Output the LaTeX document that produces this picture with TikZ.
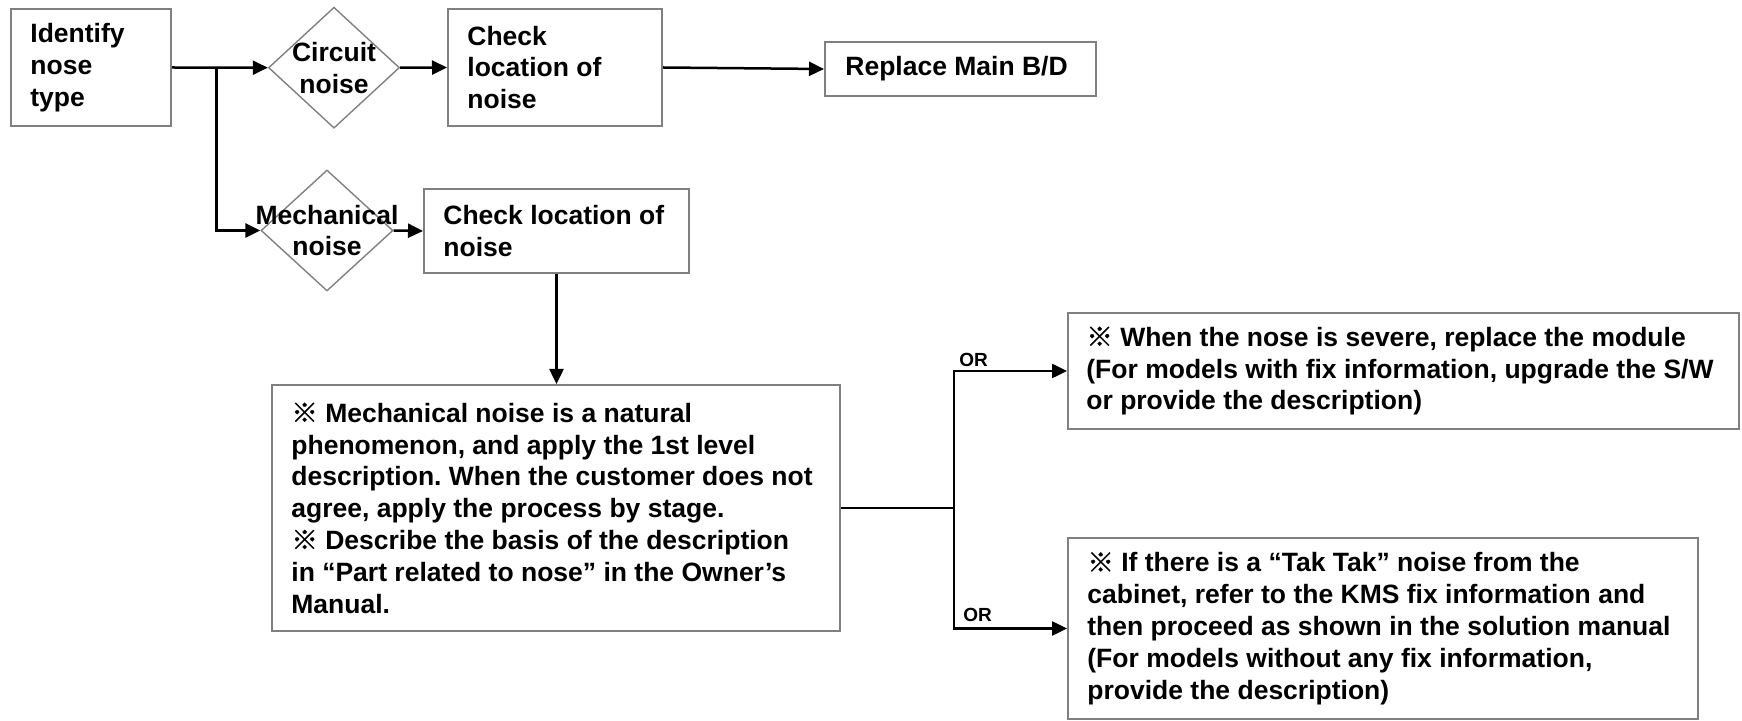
\documentclass[tikz,border=0pt]{standalone}
\usepackage{fontspec}
\setmainfont{Liberation Sans}
\newfontfamily\cjk{Noto Sans CJK SC}[FakeBold=1.2, BoldFeatures={FakeBold=1.2}]
\newcommand{\refmark}{{\cjk ※}}
\frenchspacing
\usetikzlibrary{shapes.geometric,arrows.meta}
\definecolor{bordergray}{RGB}{128,128,128}
\begin{document}
\frenchspacing
\begin{tikzpicture}[x=0.5pt,y=-0.5pt,
  box/.style={draw=bordergray, line width=1pt, fill=white, inner sep=0pt},
  dia/.style={diamond, draw=bordergray, line width=0.7pt, inner sep=0pt},
  txt/.style={font=\fontsize{13.25}{15.9}\selectfont\bfseries, align=left, inner sep=0pt},
  ctxt/.style={font=\fontsize{13.25}{15.9}\selectfont\bfseries, align=center, inner sep=0pt},
  conn/.style={line width=1.25pt, draw=black},
  arr/.style={conn, -{Triangle[length=7.5pt,width=7pt]}},
  ortxt/.style={font=\fontsize{9.5}{11}\selectfont\bfseries, inner sep=0pt, anchor=base west}
]
\useasboundingbox (0,0) rectangle (1742,721);

% boxes and decisions
\node[box, minimum width=80pt, minimum height=58.5pt] (idb) at (91,67.5) {};
\node[txt, anchor=west] (idt) at ([xshift=10pt]idb.west) {Identify\\nose\\type};

\node[dia, minimum width=65.5pt, minimum height=60.5pt,
  label={[ctxt,name=cirt]center:{Circuit\\noise}}] (cir) at (334,67.7) {};

\node[box, minimum width=107pt, minimum height=58.5pt] (chk1) at (555,67.5) {};
\node[txt, anchor=west] (chk1t) at ([xshift=10pt]chk1.west) {Check\\location of\\noise};

\node[box, minimum width=135.5pt, minimum height=27pt] (repl) at (960.5,69) {};
\node[txt, anchor=west] (replt) at ([xshift=10.5pt]repl.west) {Replace Main B/D};

\node[dia, minimum width=66pt, minimum height=60.5pt,
  label={[ctxt,name=mecht]center:{Mechanical\\noise}}] (mech) at (327,230.5) {};

\node[box, minimum width=132.5pt, minimum height=42pt] (chk2) at (556.5,231) {};
\node[txt, anchor=west] (chk2t) at ([xshift=10pt]chk2.west) {Check location of\\noise};

\node[box, minimum width=284pt, minimum height=123pt] (big) at (556,508) {};
\node[txt, anchor=west] (bigt) at ([xshift=10pt]big.west) {\refmark{} Mechanical noise is a natural\\phenomenon, and apply the 1st level\\description. When the customer does not\\agree, apply the process by stage.\\\refmark{} Describe the basis of the description\\in “Part related to nose” in the Owner’s\\Manual.};

\node[box, minimum width=335.5pt, minimum height=58pt] (b1) at (1403.5,371) {};
\node[txt, anchor=west] (b1t) at ([xshift=9.5pt]b1.west) {\refmark{} When the nose is severe, replace the module\\(For models with fix information, upgrade the S/W\\or provide the description)};

\node[box, minimum width=315pt, minimum height=90.5pt] (b2) at (1383,628.5) {};
\node[txt, anchor=west] (b2t) at ([xshift=10pt]b2.west) {\refmark{} If there is a “Tak Tak” noise from the\\cabinet, refer to the KMS fix information and\\then proceed as shown in the solution manual\\(For models without any fix information,\\provide the description)};

% connectors
\coordinate (br1) at (216.7,67.7);
\coordinate (br2) at (954,508);
\draw[arr] (idb.east) -- (cir.west);
\draw[arr] (br1) |- (mech.west);
\draw[arr] (cir.east) -- (chk1.west);
\draw[arr] (chk1.east) -- (repl.west);
\draw[arr] (mech.east) -- (chk2.west);
\draw[arr] (chk2.south) -- (chk2.south |- big.north);
\draw[conn] (big.east) -- (br2);
\draw[arr] (br2) |- (b1.west);
\draw[arr] (br2) |- (b2.west);

\node[ortxt] (or1) at (959,367) {OR};
\node[ortxt] (or2) at (963,622) {OR};
\end{tikzpicture}
\end{document}
